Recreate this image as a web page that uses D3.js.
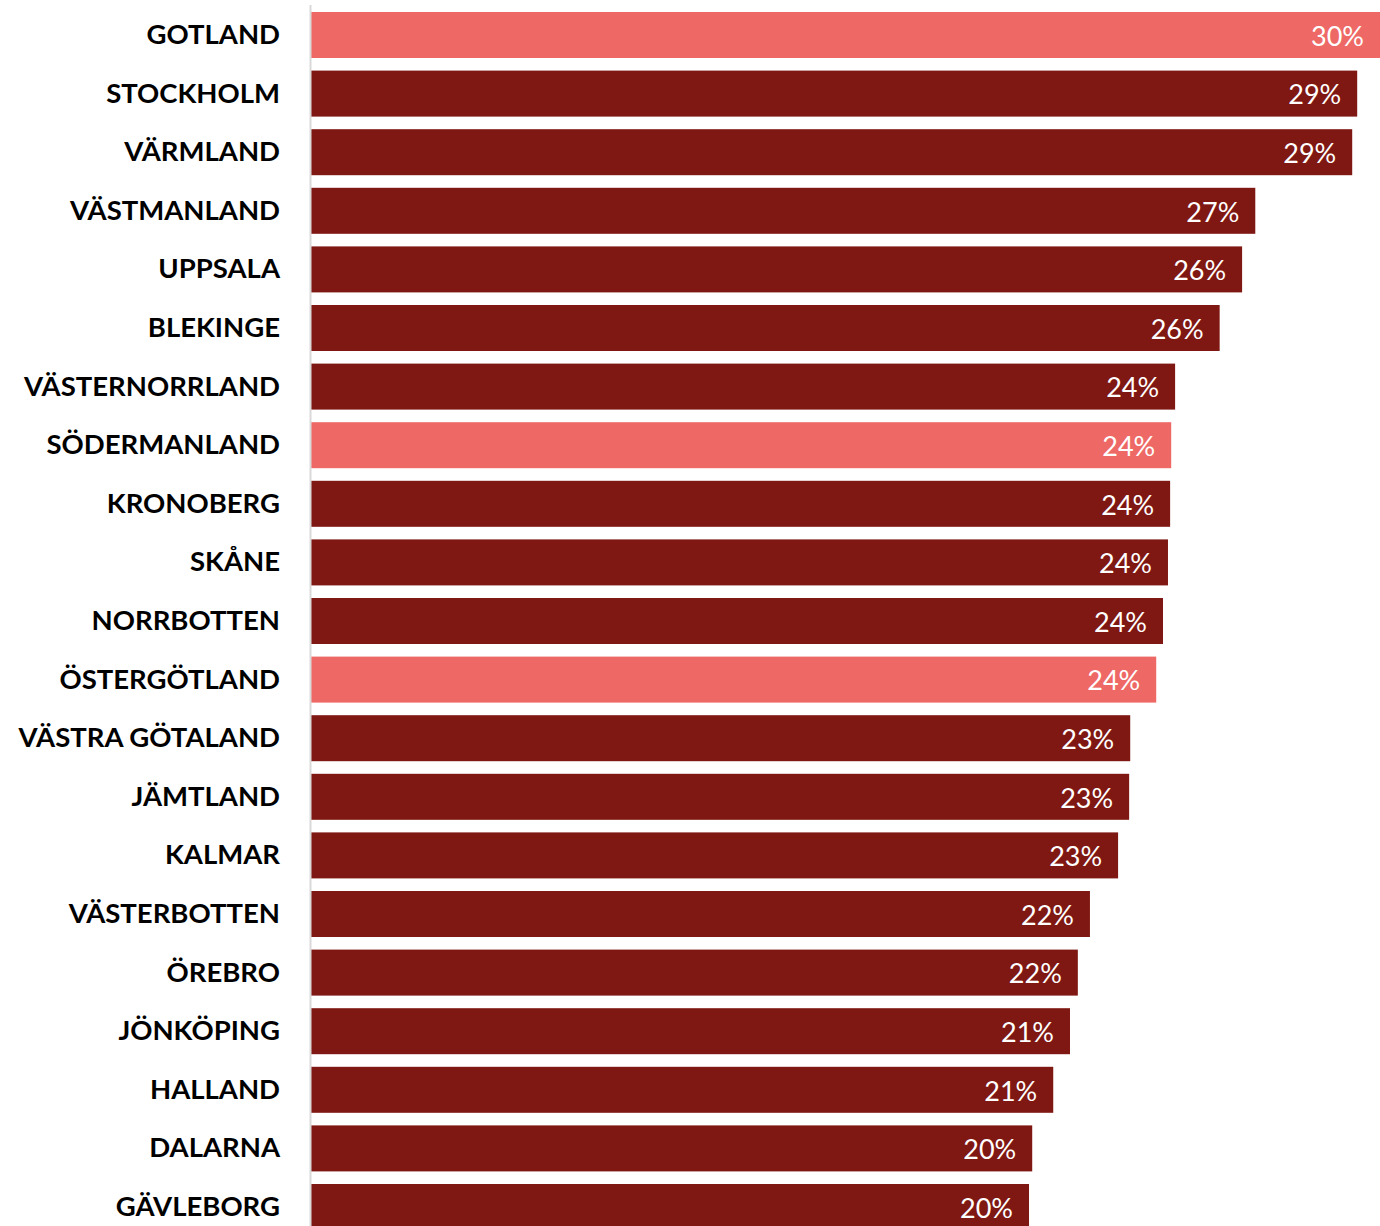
<!DOCTYPE html>
<html>
<head>
<meta charset="utf-8">
<script src="https://cdn.jsdelivr.net/npm/d3@7"></script>
<style>
  body { margin: 0; background: #fff; }
  .cat { font-family: Lato, "Open Sans", sans-serif; font-weight: 700; font-size: 27.5px; fill: #000; }
  .val { font-family: Lato, "Open Sans", sans-serif; font-size: 27px; fill: #fff; }
</style>
</head>
<body>
<div id="chart"></div>
<script>
// Regions, share (percent) and which bars are highlighted
var regions = ["GOTLAND", "STOCKHOLM", "VÄRMLAND", "VÄSTMANLAND", "UPPSALA", "BLEKINGE",
  "VÄSTERNORRLAND", "SÖDERMANLAND", "KRONOBERG", "SKÅNE", "NORRBOTTEN", "ÖSTERGÖTLAND",
  "VÄSTRA GÖTALAND", "JÄMTLAND", "KALMAR", "VÄSTERBOTTEN", "ÖREBRO", "JÖNKÖPING",
  "HALLAND", "DALARNA", "GÄVLEBORG"];
var values = [30.0, 29.36, 29.22, 26.5, 26.13, 25.5, 24.25, 24.14, 24.11, 24.05, 23.91, 23.72,
  22.99, 22.96, 22.65, 21.86, 21.52, 21.3, 20.83, 20.24, 20.15];
var highlighted = ["GOTLAND", "SÖDERMANLAND", "ÖSTERGÖTLAND"];

var w = 1380;
var h = 1226;
var left = 311;
var step = 58.6;
var topY = 5.7;

var dataset = regions.map(function(r, i) { return { region: r, value: values[i] }; });

var xScale = d3.scaleLinear()
  .domain([0, 30])
  .range([left, w]);

var yScale = d3.scaleBand()
  .domain(regions)
  .range([topY, topY + regions.length * step])
  .paddingInner(0.215)
  .paddingOuter(0.1075);

var svg = d3.select("#chart")
  .append("svg")
  .attr("width", w)
  .attr("height", h);

svg.selectAll("rect")
  .data(dataset)
  .enter()
  .append("rect")
  .attr("x", xScale(0))
  .attr("y", function(d) { return yScale(d.region); })
  .attr("width", function(d) { return xScale(d.value) - xScale(0); })
  .attr("height", yScale.bandwidth())
  .attr("fill", function(d) { return highlighted.indexOf(d.region) >= 0 ? "#ee6966" : "#7f1813"; });

// axis line on the left
svg.append("line")
  .attr("x1", left - 0.5)
  .attr("x2", left - 0.5)
  .attr("y1", 5)
  .attr("y2", h)
  .attr("stroke", "#d9d9d9")
  .attr("stroke-width", 2);

// category labels
svg.selectAll(".cat")
  .data(dataset)
  .enter()
  .append("text")
  .attr("class", "cat")
  .attr("x", 280)
  .attr("y", function(d) { return yScale(d.region) + yScale.bandwidth() / 2 - 1; })
  .attr("dy", "0.36em")
  .attr("text-anchor", "end")
  .text(function(d) { return d.region; });

// value labels
var fmt = function(v) { return Math.round(v) + "%"; };
svg.selectAll(".val")
  .data(dataset)
  .enter()
  .append("text")
  .attr("class", "val")
  .attr("x", function(d) { return xScale(d.value) - 16; })
  .attr("y", function(d) { return yScale(d.region) + yScale.bandwidth() / 2 + 1; })
  .attr("dy", "0.36em")
  .attr("text-anchor", "end")
  .text(function(d) { return fmt(d.value); });
</script>
</body>
</html>
